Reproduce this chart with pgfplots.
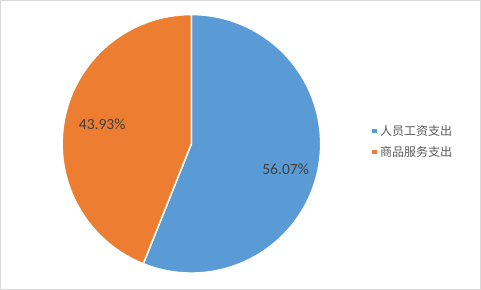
\documentclass[border=0pt]{standalone}
\usepackage{fontspec}
\setmainfont{Carlito}
\newfontfamily\cjk{Noto Sans CJK SC}
\usepackage{pgfplots}
\pgfplotsset{compat=1.18}
\definecolor{pieblue}{HTML}{5B9BD5}
\definecolor{pieorange}{HTML}{ED7D31}
\definecolor{labtxt}{HTML}{404040}
\definecolor{legtxt}{HTML}{595959}
\definecolor{frame}{HTML}{D9D9D9}
% slice values (percent)
\def\valA{56.07}
\def\valB{43.93}
\pgfmathsetmacro\angSplit{90-3.6*\valA}
\pgfmathsetmacro\angEnd{90-3.6*(\valA+\valB)}
\begin{document}
\begin{tikzpicture}
\begin{axis}[
  scale only axis, width=481pt, height=289pt,
  xmin=0, xmax=481, ymin=0, ymax=289,
  hide axis, clip=false,
  legend style={at={(axis cs:370,147.5)}, anchor=west, draw=none, fill=none,
    font=\fontsize{12}{13.5}\cjk\color{legtxt}, legend cell align=left,
    row sep=5.5pt, inner sep=0pt},
  legend image code/.code={\fill[#1] (0pt,-2.8pt) rectangle (5.6pt,2.8pt);},
]
\draw[frame, line width=1pt] (axis cs:0.5,0.5) rectangle (axis cs:479.5,288.5);
\addplot[draw=white, line width=1.5pt, fill=pieblue, domain=\angSplit:90, samples=150, variable=\t]
  ({191+129*cos(\t)},{145.5+129*sin(\t)}) -- (axis cs:191,145.5) -- cycle;
\addlegendentry{人员工资支出}
\addplot[draw=white, line width=1.5pt, fill=pieorange, domain=\angEnd:\angSplit, samples=150, variable=\t]
  ({191+129*cos(\t)},{145.5+129*sin(\t)}) -- (axis cs:191,145.5) -- cycle;
\addlegendentry{商品服务支出}
\node[font=\fontsize{15.5}{17}\selectfont, text=labtxt] at (axis cs:285,120) {56.07\%};
\node[font=\fontsize{15.5}{17}\selectfont, text=labtxt] at (axis cs:102,165) {43.93\%};
\end{axis}
\end{tikzpicture}
\end{document}
